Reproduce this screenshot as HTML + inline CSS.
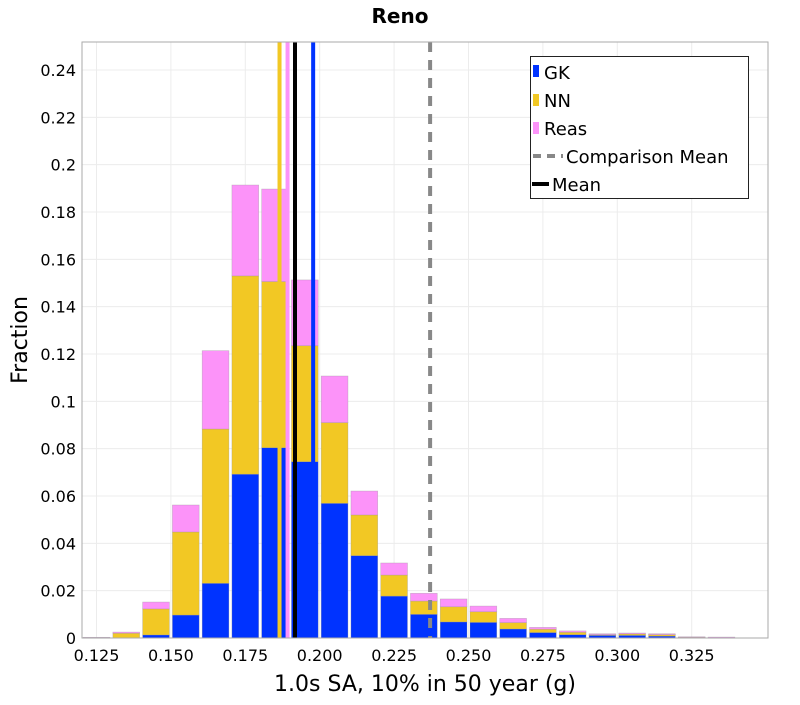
<!DOCTYPE html>
<html><head><meta charset="utf-8"><style>
body{margin:0;background:#fff;}
svg text{font-family:"DejaVu Sans","Liberation Sans",sans-serif;fill:#000;}
</style></head><body>
<svg id="chart" width="800" height="700" xmlns="http://www.w3.org/2000/svg">
<text x="400" y="23" text-anchor="middle" font-size="20" font-weight="bold">Reno</text>
<g id="grid"></g>
<g id="bars"></g>
<g id="lines"></g>
<rect x="82" y="42" width="686" height="596" fill="none" stroke="#aaa" stroke-width="1"/>
<g id="ticks"></g>
<text transform="translate(27,340) rotate(-90)" text-anchor="middle" font-size="22">Fraction</text>
<text x="425" y="691" text-anchor="middle" font-size="22">1.0s SA, 10% in 50 year (g)</text>
<g>
<rect x="530.5" y="56.5" width="218" height="142" fill="#fff" stroke="#222" stroke-width="1"/>
<g><rect x="533" y="65" width="6" height="12" fill="#0033ff"/><text x="544" y="79" font-size="18">GK</text></g>
<g><rect x="533" y="94" width="6" height="12" fill="#f2c824"/><text x="544" y="107" font-size="18">NN</text></g>
<g><rect x="533" y="122" width="6" height="12" fill="#fc93f9"/><text x="544" y="135" font-size="18">Reas</text></g>
<g><line x1="533" y1="156" x2="563" y2="156" stroke="#888" stroke-width="4" stroke-dasharray="8,6"/><text x="566" y="163" font-size="18">Comparison Mean</text></g>
<g><line x1="532" y1="184" x2="549" y2="184" stroke="#000" stroke-width="4"/><text x="552" y="191" font-size="18">Mean</text></g>
</g>
</svg>
<script>
const binCenters=[0.125,0.135,0.145,0.155,0.165,0.175,0.185,0.195,0.205,0.215,0.225,0.235,0.245,0.255,0.265,0.275,0.285,0.295,0.305,0.315,0.325,0.335];
const gkValues=[0.0001,0,0.0013,0.0097,0.0231,0.0692,0.0804,0.0745,0.0569,0.0348,0.0177,0.0100,0.0068,0.0066,0.0038,0.0023,0.0014,0.0011,0.0011,0.0008,0.0003,0];
const nnValues=[0.0001,0.002,0.011,0.0351,0.0652,0.0838,0.0702,0.049,0.0341,0.0172,0.0089,0.0056,0.0064,0.0045,0.0027,0.0014,0.001,0.0003,0.0006,0.0006,0.0001,0.0001];
const reasValues=[0.0001,0.0005,0.0029,0.0114,0.0331,0.0384,0.0391,0.0278,0.0197,0.0101,0.0051,0.0033,0.0033,0.0024,0.0018,0.0008,0.0006,0.0004,0.0004,0.0004,0.0001,0.0003];
const meanNN=0.1865, meanReas=0.1892, meanAll=0.1917, meanGK=0.1978, comparisonMean=0.2371;
const xTicks=[0.125,0.15,0.175,0.2,0.225,0.25,0.275,0.3,0.325];
const xTickLabels=["0.125","0.150","0.175","0.200","0.225","0.250","0.275","0.300","0.325"];
const yTicks=[0,0.02,0.04,0.06,0.08,0.1,0.12,0.14,0.16,0.18,0.2,0.22,0.24];
const yTickLabels=["0","0.02","0.04","0.06","0.08","0.1","0.12","0.14","0.16","0.18","0.2","0.22","0.24"];
const binWidth=0.01;
const NS="http://www.w3.org/2000/svg";
function xs(v){return 96.5+(v-0.125)*2976;}
function ys(v){return 638-v*2366.7;}
function mk(tag,attrs,parent){const e=document.createElementNS(NS,tag);for(const k in attrs)e.setAttribute(k,attrs[k]);parent.appendChild(e);return e;}
const grid=document.getElementById('grid'),bars=document.getElementById('bars'),lines=document.getElementById('lines'),ticks=document.getElementById('ticks');
yTicks.forEach((t,i)=>{
  const g=mk('line',{x1:82,x2:768,y1:ys(t),y2:ys(t),stroke:'#ececec','stroke-width':1},grid);
  
  
  const tx=mk('text',{x:76,y:ys(t)+6,'text-anchor':'end','font-size':16},ticks);
  
  
  tx.textContent=yTickLabels[i];
});
xTicks.forEach((t,i)=>{
  const g=mk('line',{x1:xs(t),x2:xs(t),y1:42,y2:638,stroke:'#ececec','stroke-width':1},grid);
  
  
  const tx=mk('text',{x:xs(t),y:661,'text-anchor':'middle','font-size':16},ticks);
  
  
  tx.textContent=xTickLabels[i];
});
const bw=binWidth*2976-3;
binCenters.forEach((c,i)=>{
  let base=0;
  [[gkValues,'#0033ff','gk'],[nnValues,'#f2c824','nn'],[reasValues,'#fc93f9','reas']].forEach(([arr,col,nm])=>{
    const v=arr[i]; if(v<=0) return;
    const y1=ys(base+v),y0=ys(base);
    const r=mk('rect',{x:xs(c)-bw/2,y:y1,width:bw,height:Math.max(0.5,y0-y1),fill:col,stroke:'rgba(150,150,150,0.5)','stroke-width':0.6},bars);
    
    
    base+=v;
  });
});
[[meanNN,'#f2c824',null,'mean-line-nn'],[meanReas,'#fc93f9',null,'mean-line-reas'],[meanAll,'#000',null,'mean-line'],[meanGK,'#0033ff',null,'mean-line-gk'],[comparisonMean,'#888','10,8','comparison-mean-line']].forEach(([v,col,dash,nm])=>{
  const l=mk('line',{x1:xs(v),x2:xs(v),y1:42,y2:638,stroke:col,'stroke-width':4},lines);
  if(dash) l.setAttribute('stroke-dasharray',dash);
  
  
});
</script>
</body></html>
